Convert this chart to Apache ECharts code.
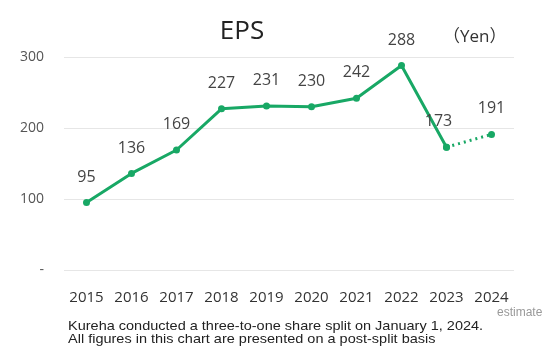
<!DOCTYPE html>
<html>
<head>
<meta charset="utf-8">
<script src="https://cdn.jsdelivr.net/npm/echarts@6/dist/echarts.min.js"></script>
<style>
  html, body { margin: 0; padding: 0; background: #fff; }
  #chart { width: 550px; height: 349px; }
</style>
</head>
<body>
<div id="chart"></div>
<script>
// Fiscal years and EPS (yen); last year is an estimate
const years = ['2015', '2016', '2017', '2018', '2019', '2020', '2021', '2022', '2023', '2024'];
const epsActual = [95, 136, 169, 227, 231, 230, 242, 288, 173, null];
const epsEstimate = [null, null, null, null, null, null, null, null, 173, 191];
const yTickLabels = { 0: '-', 100: '100', 200: '200', 300: '300' };

const green = '#18a865';
const labelStyle = { color: '#444', fontSize: 16, fontFamily: 'Open Sans' };

// 2023's label sits to the upper left of its point
const actualData = epsActual.map((v, i) =>
  i === 8 ? { value: v, label: { offset: [-8, 0] } } : v);

const chart = echarts.init(document.getElementById('chart'), null, { renderer: 'canvas' });

chart.setOption({
  backgroundColor: '#ffffff',
  animation: false,
  title: {
    text: 'EPS',
    left: 237, top: 14,
    textAlign: 'center',
    textStyle: { fontFamily: 'Open Sans', fontSize: 26, fontWeight: 'normal', color: '#222' }
  },
  grid: { left: 64, right: 36, top: 57, bottom: 79 },
  xAxis: {
    type: 'category',
    data: years,
    boundaryGap: true,
    axisLine: { show: false },
    axisTick: { show: false },
    axisLabel: { color: '#333', fontSize: 15, fontFamily: 'Open Sans', margin: 20 }
  },
  yAxis: {
    type: 'value',
    min: 0, max: 300, interval: 100,
    axisLine: { show: false },
    axisTick: { show: false },
    splitLine: { lineStyle: { color: '#e6e6e6', width: 1 } },
    axisLabel: {
      color: '#555', fontSize: 14, fontFamily: 'Open Sans', margin: 20,
      formatter: v => yTickLabels[v]
    }
  },
  series: [
    {
      type: 'line',
      data: actualData,
      z: 3,
      symbol: 'circle', symbolSize: 7,
      itemStyle: { color: green },
      lineStyle: { color: green, width: 3 },
      label: Object.assign({ show: true, position: 'top', distance: 14 }, labelStyle)
    },
    {
      type: 'line',
      data: epsEstimate,
      z: 2,
      symbol: 'circle', symbolSize: 7,
      itemStyle: { color: green },
      lineStyle: { color: green, width: 3, type: [2, 4] },
      label: Object.assign({
        show: true, position: 'top', distance: 14,
        formatter: p => p.dataIndex === 8 ? '' : p.value
      }, labelStyle)
    }
  ],
  graphic: [
    {
      type: 'text', left: 443, top: 29,
      style: { text: '（Yen）', font: '17px "Open Sans", "Noto Sans CJK JP"', fill: '#333' }
    },
    {
      type: 'text', left: 497, top: 307,
      style: { text: 'estimate', font: '12px "Liberation Sans"', fill: '#999' }
    },
    {
      type: 'text', x: 68, y: 320, scaleY: 0.85,
      style: {
        text: 'Kureha conducted a three-to-one share split on January 1, 2024.\nAll figures in this chart are presented on a post-split basis',
        font: '14.5px "Liberation Sans"', fill: '#222', lineHeight: 15
      }
    }
  ]
});
</script>
</body>
</html>
